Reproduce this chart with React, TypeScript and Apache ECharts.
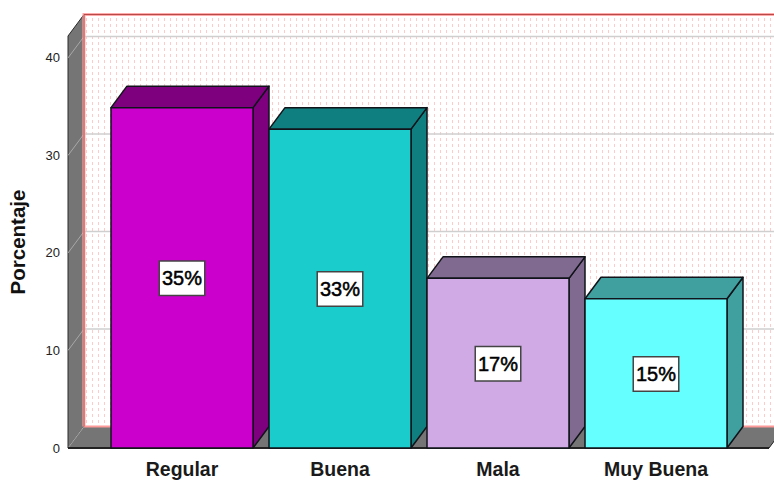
import React, { useEffect, useRef } from "react";
import * as echarts from "echarts";

const categories = ["Regular", "Buena", "Mala", "Muy Buena"];
const percentages = [34.9, 32.7, 17.4, 15.3];
const percentLabels = ["35%", "33%", "17%", "15%"];
const yTicks = [0, 10, 20, 30, 40];
const frontColors = ["#CC00CC", "#1ACCCC", "#CFAAE5", "#66FFFF"];
const shadeColors = ["#7F007F", "#107F7F", "#816A8F", "#409F9F"];

const DX = 16;
const DY = -21.5;
const OUTLINE = "#10141a";

function dotTile(): HTMLCanvasElement {
  const c = document.createElement("canvas");
  c.width = 6;
  c.height = 6;
  const g = c.getContext("2d")!;
  g.fillStyle = "#ffffff";
  g.fillRect(0, 0, 6, 6);
  g.fillStyle = "#ffcaca";
  g.fillRect(2, 0, 1, 3);
  return c;
}

export default function App() {
  const ref = useRef<HTMLDivElement>(null);
  useEffect(() => {
    const chart = echarts.init(ref.current!, undefined, { renderer: "svg" });
    const tile = dotTile();
    const renderWalls = (params: any, api: any) => {
      const cs = params.coordSys;
      const leftX = 68;
      const rightX = 769;
      const baseY = api.coord([0, 0])[1];
      const topY = cs.y;
      const children: any[] = [
        {
          type: "polygon",
          shape: { points: [[leftX + DX, topY + DY], [rightX + DX, topY + DY], [rightX + DX, baseY + DY], [leftX + DX, baseY + DY]] },
          style: { fill: { image: tile, repeat: "repeat" } as any },
        },
        {
          type: "polygon",
          shape: { points: [[leftX, topY], [leftX + DX, topY + DY], [leftX + DX, baseY + DY], [leftX, baseY]] },
          style: { fill: "#757575", stroke: "#2a2a2a", lineWidth: 1 },
        },
        {
          type: "polygon",
          shape: { points: [[leftX, baseY], [leftX + DX, baseY + DY], [rightX + DX, baseY + DY], [rightX, baseY]] },
          style: { fill: "#757575" },
        },
      ];
      yTicks.slice(1).forEach((t) => {
        const y = api.coord([0, t])[1];
        children.push({
          type: "line",
          shape: { x1: leftX + DX, y1: y + DY, x2: rightX + DX, y2: y + DY },
          style: { stroke: "#cfcfcf", lineWidth: 1.5 },
        });
      });
      yTicks.forEach((t) => {
        const y = api.coord([0, t])[1];
        children.push({
          type: "line",
          shape: { x1: leftX, y1: y, x2: leftX + DX, y2: y + DY },
          style: { stroke: "#a8a8a8", lineWidth: 1 },
        });
      });
      children.push(
        {
          type: "polyline",
          shape: { points: [[leftX + DX, baseY + DY], [leftX + DX, topY + DY], [rightX + DX, topY + DY]] },
          style: { fill: "none", stroke: "#ffaaaa", lineWidth: 3 },
        },
        {
          type: "line",
          shape: { x1: leftX + DX, y1: baseY + DY, x2: rightX + DX, y2: baseY + DY },
          style: { stroke: "#ff9a9a", lineWidth: 2 },
        },
        {
          type: "polyline",
          shape: { points: [[leftX + DX, baseY + DY], [leftX + DX, topY + DY], [rightX + DX, topY + DY]] },
          style: { fill: "none", stroke: "#b84a4a", lineWidth: 1 },
        },
        {
          type: "line",
          shape: { x1: leftX, y1: baseY, x2: rightX, y2: baseY },
          style: { stroke: "#222222", lineWidth: 2 },
        },
        {
          type: "line",
          shape: { x1: rightX, y1: baseY, x2: rightX + DX, y2: baseY + DY },
          style: { stroke: "#222222", lineWidth: 1 },
        },
      );
      return { type: "group", children };
    };
    const renderBar = (params: any, api: any) => {
      const i = api.value(0);
      const v = api.value(1);
      const top = api.coord([i, v]);
      const base = api.coord([i, 0]);
      const w = api.size([1, 0])[0] * (142 / 158);
      const l = top[0] - w / 2;
      const r = top[0] + w / 2;
      const edge = { stroke: OUTLINE, lineWidth: 1.5, lineJoin: "round" };
      return {
        type: "group",
        children: [
          {
            type: "polygon",
            shape: { points: [[r, top[1]], [r + DX, top[1] + DY], [r + DX, base[1] + DY], [r, base[1]]] },
            style: { fill: shadeColors[i], ...edge },
          },
          {
            type: "polygon",
            shape: { points: [[l, top[1]], [l + DX, top[1] + DY], [r + DX, top[1] + DY], [r, top[1]]] },
            style: { fill: shadeColors[i], ...edge },
          },
          {
            type: "rect",
            shape: { x: l, y: top[1], width: w, height: base[1] - top[1] },
            style: { fill: frontColors[i], ...edge },
          },
          {
            type: "text",
            x: top[0],
            y: (top[1] + base[1]) / 2 + 0.5,
            style: {
              text: percentLabels[i],
              align: "center",
              verticalAlign: "middle",
              fontFamily: "Liberation Sans",
              fontSize: 20,
              fontWeight: "normal",
              fill: "#000000",
              stroke: "#000000",
              lineWidth: 0.5,
              backgroundColor: "#ffffff",
              borderColor: "#444444",
              borderWidth: 1.5,
              padding: [7, 2, 6, 2],
            },
          },
        ],
      };
    };
    chart.setOption({
      animation: false,
      backgroundColor: "#ffffff",
      grid: { left: 103, top: 36, width: 632, height: 412, outerBoundsMode: "none" },
      xAxis: {
        type: "category",
        data: categories,
        axisLine: { show: false },
        axisTick: { show: false },
        axisLabel: {
          margin: 11,
          fontFamily: "Liberation Sans",
          fontSize: 19.5,
          fontWeight: "bold",
          color: "#1a1a1a",
          interval: 0,
        },
        z: 10,
      },
      yAxis: {
        type: "value",
        min: 0,
        max: 42.25,
        interval: 10,
        offset: 35,
        name: "Porcentaje",
        nameLocation: "middle",
        nameRotate: 90,
        nameGap: 40,
        nameTextStyle: { fontFamily: "Liberation Sans", fontSize: 20.5, fontWeight: "bold", color: "#111111" },
        splitLine: { show: false },
        axisTick: { show: false },
        axisLine: { show: true, lineStyle: { color: "#222222", width: 1 } },
        axisLabel: {
          margin: 8,
          padding: [2, 0, 0, 0],
          fontFamily: "Liberation Sans",
          fontSize: 13,
          color: "#222222",
          showMaxLabel: false,
          formatter: (v: number) => (yTicks.includes(v) ? String(v) : ""),
        },
      },
      series: [
        { type: "custom", z: 1, silent: true, renderItem: renderWalls, data: [[0, 0]], encode: { x: 0, y: 1 } },
        {
          type: "custom",
          z: 3,
          silent: true,
          renderItem: renderBar,
          data: percentages.map((v, i) => [i, v]),
          encode: { x: 0, y: 1 },
        },
      ],
    });
    return () => chart.dispose();
  }, []);
  return <div ref={ref} style={{ position: "absolute", left: 0, top: 0, width: 774, height: 480 }} />;
}
